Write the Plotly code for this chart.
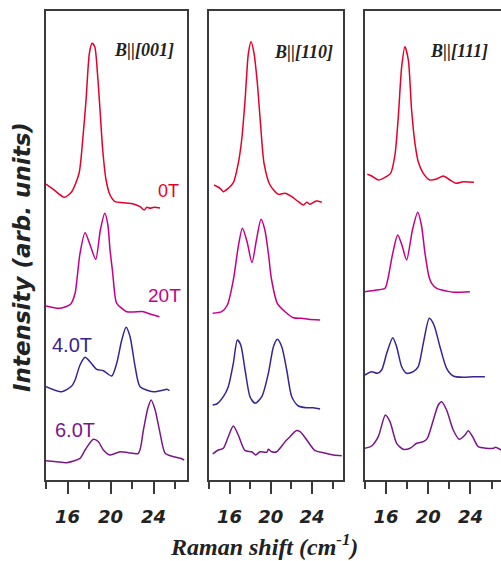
import plotly.graph_objects as go

# ---------------- data (x: Raman shift cm^-1, y: offset intensity, arb. units) ----------------
# Panel B||[001]
x_001_0T = [14.0, 14.68, 15.70, 16.39, 17.07, 17.41, 17.72, 18.03, 18.28, 18.53, 18.78, 19.02, 19.27, 19.58, 19.95, 20.42, 21.19, 22.12, 22.74, 23.12, 23.37, 23.67, 24.05, 24.6]
y_001_0T = [296, 290.7, 282.7, 288.3, 306.7, 340, 380, 426.7, 436.7, 433.3, 406.7, 370, 330, 300, 285, 278.3, 277.3, 276, 273.3, 270, 272.7, 271.7, 272.7, 272]
x_001_2T = [14.0, 15.30, 16.30, 16.70, 16.88, 17.16, 17.63, 18.1, 18.62, 19.05, 19.46, 19.75, 19.95, 20.2, 20.4, 20.57, 21.5, 23.05, 23.67, 24.54]
y_001_2T = [174, 171.7, 176, 186.7, 201, 226.7, 247.3, 235, 220.7, 250, 266.7, 255, 230, 206.7, 185, 176.7, 168.3, 168.3, 166, 163.3]
x_001_4T = [14.0, 15.46, 16.39, 16.70, 17.16, 17.63, 18.09, 18.71, 19.33, 20.11, 20.57, 21.04, 21.44, 21.81, 22.28, 22.74, 23.98, 24.91, 25.23, 25.47]
y_001_4T = [93.3, 88.3, 94, 100, 115, 122.7, 118.3, 110.7, 109.3, 104, 116.7, 140, 152.7, 143.3, 113.3, 93.3, 88.3, 90, 90.7, 89.3]
x_001_6T = [14.0, 14.99, 15.92, 17.16, 17.63, 18.40, 18.87, 19.33, 19.95, 20.88, 21.66, 22.59, 23.05, 23.46, 23.77, 24.14, 24.6, 25.07, 25.84, 26.47, 26.84]
y_001_6T = [19.3, 18.3, 17.3, 21.7, 30, 40.7, 38.3, 30, 25, 28.3, 27.3, 26.7, 50, 71.7, 80, 70, 46.7, 26.7, 23.3, 21.7, 20]

# Panel B||[110]
x_110_0T = [14.49, 15.07, 15.39, 15.87, 16.36, 16.84, 17.17, 17.50, 17.82, 18.08, 18.37, 18.69, 19.02, 19.34, 19.92, 20.73, 21.38, 22.03, 22.67, 23.16, 23.49, 23.81, 24.39, 24.94]
y_110_0T = [295, 291.7, 288.3, 291.7, 297.3, 316.7, 340, 380, 426.7, 438.3, 426.7, 396.7, 353.3, 316.7, 295, 285.7, 286.7, 283.3, 278.3, 275, 277.7, 275.7, 279, 277.7]
x_110_2T = [14.36, 15.23, 15.78, 16.36, 16.84, 17.24, 17.7, 18.17, 18.6, 19.05, 19.42, 19.76, 20.05, 20.63, 21.38, 22.19, 23.0, 23.64, 24.78]
y_110_2T = [166.7, 168.3, 175, 200, 233.3, 251.7, 238, 217.3, 240, 260.7, 250, 226.7, 201.5, 176.7, 168.3, 162.3, 161.7, 160.7, 160]
x_110_4T = [14.36, 14.75, 15.39, 15.87, 16.36, 16.75, 17.08, 17.50, 17.98, 18.47, 19.12, 19.76, 20.25, 20.63, 21.06, 21.54, 22.03, 22.67, 23.49, 24.13, 24.78]
y_110_4T = [75, 76, 83.3, 93.3, 116.7, 140, 135, 110, 83.3, 76.7, 83.3, 106.7, 133.3, 140.7, 133.3, 110, 83.3, 74, 72.3, 72.3, 71]
x_110_6T = [14.36, 14.9, 15.39, 15.87, 16.36, 16.84, 17.50, 18.14, 18.53, 18.95, 19.60, 19.76, 20.08, 20.57, 21.38, 21.86, 22.45, 22.83, 23.49, 24.29, 25.1, 26.07, 26.88]
y_110_6T = [26, 30, 31.7, 43.3, 54, 45, 29.3, 28.3, 25, 28.3, 27.7, 30.7, 28.3, 28.3, 38.3, 43.3, 49.3, 48.3, 40, 29.3, 27.3, 25, 24.3]

# Panel B||[111]
x_111_0T = [14.22, 14.63, 15.26, 15.90, 16.43, 16.84, 17.16, 17.48, 17.79, 18.11, 18.42, 18.74, 19.05, 19.53, 20.16, 20.80, 21.43, 22.06, 22.63, 23.32, 24.33]
y_111_0T = [305.7, 304, 300, 302.7, 306.7, 325, 363.3, 413.3, 433.3, 420, 370, 336.7, 318.3, 306.7, 300, 301, 304, 300, 296.7, 298.3, 297.7]
x_111_2T = [14.0, 15.11, 15.90, 16.15, 16.63, 17.10, 17.5, 17.95, 18.5, 19.0, 19.35, 19.69, 20.07, 20.32, 20.8, 21.74, 22.37, 23.95]
y_111_2T = [188.3, 190, 191.7, 200, 226.7, 245, 235, 220, 250, 267.7, 255, 226.7, 203.3, 196.7, 191.7, 189, 187.7, 188.3]
x_111_4T = [14.0, 14.63, 15.17, 15.58, 16.06, 16.63, 17.0, 17.48, 17.95, 18.58, 19.05, 19.53, 20.10, 20.54, 21.11, 21.74, 22.37, 23.32, 24.27, 25.37]
y_111_4T = [105, 108.3, 106.7, 110, 126.7, 142.3, 133.3, 113.3, 106.7, 108.3, 113.3, 136.7, 161.7, 155, 133.3, 111.7, 104, 102.7, 103.3, 103.3]
x_111_6T = [14.0, 14.63, 15.26, 15.93, 16.37, 17.0, 17.63, 18.27, 18.9, 19.53, 19.91, 20.48, 20.95, 21.27, 21.74, 22.37, 22.94, 23.48, 23.79, 24.21, 24.74, 25.53, 26.16, 26.39, 26.9]
y_111_6T = [31.7, 34, 43.3, 65, 58.3, 36.7, 30.7, 31.7, 36.7, 38.3, 41.7, 60, 75, 78.3, 70, 50, 40.7, 45, 49.3, 43.3, 33.3, 31.7, 31.7, 32.7, 30]

field_labels = ["0T", "20T", "4.0T", "6.0T"]
panel_titles = ["B||[001]", "B||[110]", "B||[111]"]
major_ticks = [16, 20, 24]
minor_ticks = [14, 18, 22, 26]

# ---------------- styling ----------------
colors = ["#e4002b", "#c4008a", "#3a2290", "#7a1788"]
W, H = 501, 561
axis_color = "#3a3a3a"

panels = [
    [(x_001_0T, y_001_0T), (x_001_2T, y_001_2T), (x_001_4T, y_001_4T), (x_001_6T, y_001_6T)],
    [(x_110_0T, y_110_0T), (x_110_2T, y_110_2T), (x_110_4T, y_110_4T), (x_110_6T, y_110_6T)],
    [(x_111_0T, y_111_0T), (x_111_2T, y_111_2T), (x_111_4T, y_111_4T), (x_111_6T, y_111_6T)],
]
x_domains = [[46 / W, 187 / W], [209 / W, 343 / W], [365 / W, 1.0]]
x_ranges = [[14, 27.1], [14, 27.0], [14, 26.9]]
y_dom = [(H - 480) / H, (H - 11) / H]

fig = go.Figure()
for p, curves in enumerate(panels):
    sfx = "" if p == 0 else str(p + 1)
    for c, (xs, ys) in enumerate(curves):
        fig.add_trace(go.Scatter(
            x=xs, y=ys, mode="lines",
            line=dict(color=colors[c], width=1.5, shape="spline", smoothing=0.7),
            xaxis="x" + sfx, yaxis="y" + sfx, showlegend=False, hoverinfo="skip"))
    fig.layout["xaxis" + sfx] = dict(
        domain=x_domains[p], range=x_ranges[p], anchor="y" + sfx,
        showline=True, linecolor=axis_color, linewidth=1.5, mirror=True,
        showgrid=False, zeroline=False,
        tickmode="array", tickvals=major_ticks, ticks="outside", ticklen=12,
        tickwidth=1.5, tickcolor=axis_color, ticklabelstandoff=8,
        tickfont=dict(family="DejaVu Sans", size=18, color="#222222", weight="bold", style="italic"),
        minor=dict(tickvals=minor_ticks, ticks="outside", ticklen=7, tickwidth=1.5, tickcolor=axis_color),
    )
    fig.layout["yaxis" + sfx] = dict(
        domain=y_dom, range=[0, 469], anchor="x" + sfx,
        showline=True, linecolor=axis_color, linewidth=1.5, mirror=(p < 2),
        showgrid=False, zeroline=False, showticklabels=False, ticks="",
    )

annotations = []
# panel titles
title_pos = [(144, 50), (303, 52), (459, 51)]
for (px, py), t in zip(title_pos, panel_titles):
    annotations.append(dict(
        x=px / W, y=1 - py / H, xref="paper", yref="paper", text=t, showarrow=False,
        xanchor="center", yanchor="middle",
        font=dict(family="Liberation Serif", size=18, color="#222222", weight="bold", style="italic")))
# field labels in panel 1 (data coordinates)
label_pos = [(25.35, 289), (25.0, 185), (16.42, 135), (16.74, 50)]
label_sizes = [18, 19, 20, 20]
for (lx, ly), t, col, s in zip(label_pos, field_labels, colors, label_sizes):
    annotations.append(dict(
        x=lx, y=ly, xref="x", yref="y", text=t, showarrow=False,
        xanchor="center", yanchor="middle",
        font=dict(family="Liberation Sans", size=s, color=col)))
# axis titles
annotations.append(dict(
    x=264 / W, y=1 - 545 / H, xref="paper", yref="paper",
    text="Raman shift (cm<sup>-1</sup>)", showarrow=False, xanchor="center", yanchor="middle",
    font=dict(family="Liberation Serif", size=24, color="#222222", weight="bold", style="italic")))
annotations.append(dict(
    x=22 / W, y=1 - 257 / H, xref="paper", yref="paper",
    text="Intensity (arb. units)", showarrow=False, textangle=-90,
    xanchor="center", yanchor="middle",
    font=dict(family="DejaVu Sans", size=23, color="#222222", weight="bold", style="italic")))

fig.update_layout(
    width=W, height=H, margin=dict(l=0, r=0, t=0, b=0),
    paper_bgcolor="white", plot_bgcolor="white",
    annotations=annotations,
)
fig.write_html("out.html")
